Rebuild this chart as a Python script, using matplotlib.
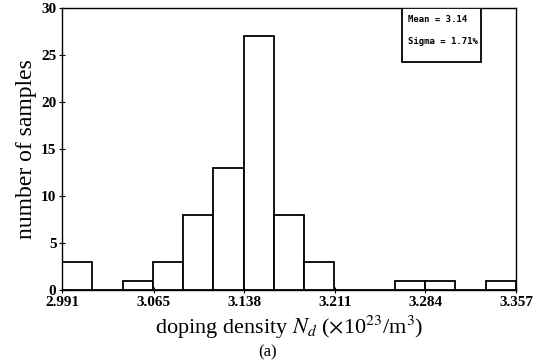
import numpy as np
import matplotlib
matplotlib.use("Agg")
import matplotlib.pyplot as plt
from matplotlib.patches import Rectangle

# datos del histograma (15 clases entre 2.991 y 3.357)
x_min = 2.991
x_max = 3.357
counts = [3, 0, 1, 3, 8, 13, 27, 8, 3, 0, 0, 1, 1, 0, 1]
tick_vals = [2.991, 3.065, 3.138, 3.211, 3.284, 3.357]
tick_labels = ["2.991", "3.065", "3.138", "3.211", "3.284", "3.357"]
mean_txt = "Mean = 3.14"
sigma_txt = "Sigma = 1.71%"

plt.rcParams["font.family"] = ["Liberation Serif", "DejaVu Serif"]
plt.rcParams["mathtext.fontset"] = "stix"

fig = plt.figure(figsize=(5.36, 3.64), dpi=100)
ax = fig.add_axes([0.1157, 0.2033, 0.847, 0.7747])

edges = np.linspace(x_min, x_max, len(counts) + 1)
widths = np.diff(edges)
ax.bar(edges[:-1], counts, width=widths, align="edge",
       facecolor="white", edgecolor="black", linewidth=1.3)

ax.set_xlim(x_min, x_max)
ax.set_ylim(0, 30)
ax.set_xticks(tick_vals)
ax.set_xticklabels(tick_labels, fontsize=11, fontweight="bold")
ax.set_yticks(range(0, 31, 5))
ax.set_yticklabels([str(v) for v in range(0, 31, 5)], fontsize=11, fontweight="bold")
ax.tick_params(direction="inout", length=4, width=0.8, pad=2)
for s in ax.spines.values():
    s.set_linewidth(1.0)

ax.set_xlabel(r"doping density $N_d$ ($\times$10$^{23}$/m$^3$)", fontsize=16, labelpad=4)
ax.set_ylabel("number of samples", fontsize=17, labelpad=3)

# caja con estadisticas
ax.add_patch(Rectangle((0.749, 0.809), 0.174, 0.191, transform=ax.transAxes,
                       facecolor="white", edgecolor="black", linewidth=1.3, zorder=3))
ax.text(0.762, 0.961, mean_txt, transform=ax.transAxes, fontsize=6.5, fontweight="bold",
        family="DejaVu Sans Mono", va="center", ha="left", zorder=4)
ax.text(0.762, 0.883, sigma_txt, transform=ax.transAxes, fontsize=6.5, fontweight="bold",
        family="DejaVu Sans Mono", va="center", ha="left", zorder=4)

fig.text(0.5, 0.033, "(a)", ha="center", va="center", fontsize=12)

fig.savefig("out.png", dpi=100)
